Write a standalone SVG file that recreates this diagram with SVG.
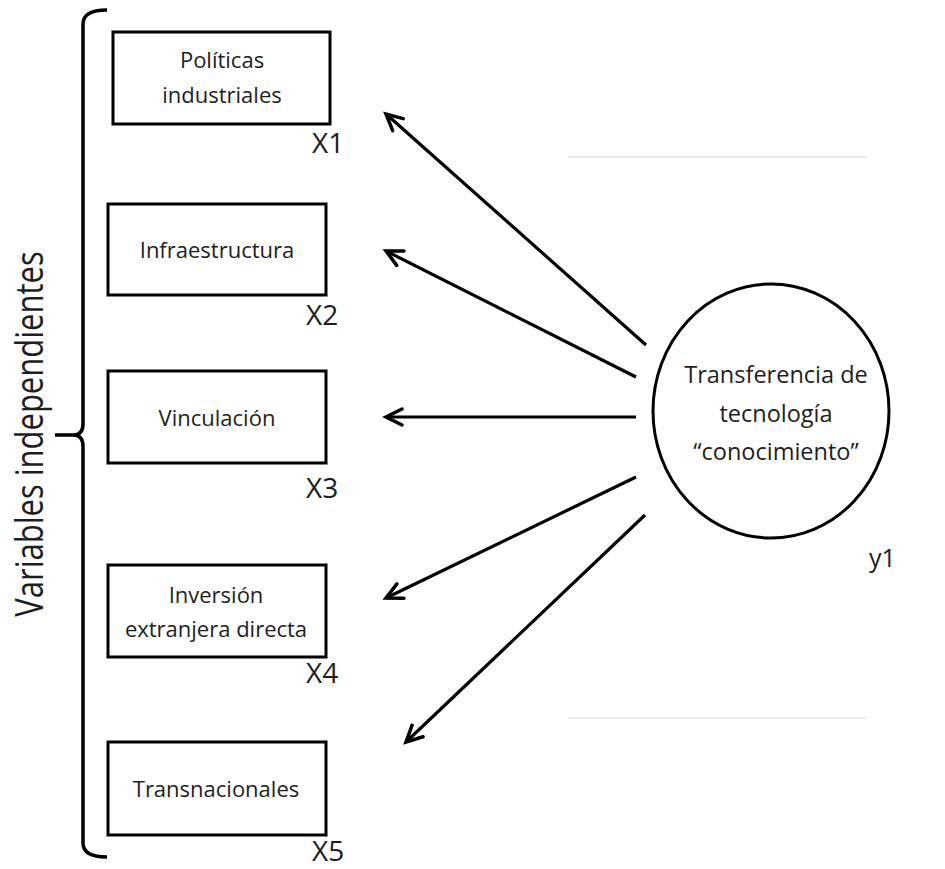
<svg xmlns="http://www.w3.org/2000/svg" width="945" height="869" viewBox="0 0 945 869">
  <style>
    .box { fill: #fff; stroke: #000; stroke-width: 3; }
    .lbl { font-family: "Open Sans", "Liberation Sans", sans-serif; font-size: 22px; fill: #1e1e1e; text-anchor: middle; }
    .var { font-family: "Open Sans", "Liberation Sans", sans-serif; font-size: 28px; fill: #1e1e1e; }
    .big { font-size: 23.5px; }
    .yl { font-size: 25px; }
    .side { font-size: 31px; text-anchor: middle; }
    .conn { stroke: #000; stroke-width: 3.2; fill: none; marker-end: url(#arrow); }
    .faint { stroke: #e6e6e6; stroke-width: 1.5; }
  </style>
  <defs>
    <marker id="arrow" viewBox="-20 -11 24 22" markerWidth="24" markerHeight="22" markerUnits="userSpaceOnUse" refX="0" refY="0" orient="auto">
      <path d="M-16,-8 L0,0 L-16,8" fill="none" stroke="#000" stroke-width="3.5" stroke-linecap="round" stroke-linejoin="miter"/>
    </marker>
  </defs>
  <rect width="945" height="869" fill="#fff"/>

  <!-- faint horizontal rules -->
  <line class="faint" x1="568" y1="157" x2="867" y2="157"/>
  <line class="faint" x1="568" y1="718" x2="867" y2="718"/>

  <!-- brace grouping the independent variables -->
  <g id="brace">
    <path d="M107,10 Q83,10 83,24 L83,424 Q83,435 73,435 L55,435 M73,435 Q83,435 83,446 L83,843 Q83,857 107,857" fill="none" stroke="#000" stroke-width="3.5"/>
    <text class="var side" transform="translate(43,434) scale(1.22,1) rotate(-90)">Variables independientes</text>
  </g>

  <!-- independent variables -->
  <g id="x1">
    <rect class="box" x="113" y="32" width="217" height="92"/>
    <text class="lbl" x="222" y="68">Políticas</text>
    <text class="lbl" x="222" y="103">industriales</text>
    <text class="var" x="312" y="153">X1</text>
  </g>
  <g id="x2">
    <rect class="box" x="108" y="204" width="218" height="91"/>
    <text class="lbl" x="217" y="258">Infraestructura</text>
    <text class="var" x="306" y="325">X2</text>
  </g>
  <g id="x3">
    <rect class="box" x="108" y="371" width="218" height="92"/>
    <text class="lbl" x="217" y="426">Vinculación</text>
    <text class="var" x="306" y="498">X3</text>
  </g>
  <g id="x4">
    <rect class="box" x="108" y="565" width="218" height="92"/>
    <text class="lbl" x="216" y="603">Inversión</text>
    <text class="lbl" x="216" y="637">extranjera directa</text>
    <text class="var" x="306" y="683">X4</text>
  </g>
  <g id="x5">
    <rect class="box" x="108" y="742" width="218" height="93"/>
    <text class="lbl" x="216" y="797">Transnacionales</text>
    <text class="var" x="312" y="861">X5</text>
  </g>

  <!-- dependent variable -->
  <g id="y1">
    <ellipse cx="771" cy="411" rx="118" ry="127" fill="#fff" stroke="#000" stroke-width="3"/>
    <text class="lbl big" x="776" y="383">Transferencia de</text>
    <text class="lbl big" x="776" y="422">tecnología</text>
    <text class="lbl big" x="776" y="460">“conocimiento”</text>
    <text class="var yl" x="869" y="567">y1</text>
  </g>

  <!-- connectors -->
  <g id="connectors">
    <line class="conn" x1="646" y1="345" x2="386" y2="114"/>
    <line class="conn" x1="636" y1="377" x2="386" y2="251"/>
    <line class="conn" x1="636" y1="417" x2="386" y2="417"/>
    <line class="conn" x1="636" y1="477" x2="386" y2="598"/>
    <line class="conn" x1="645" y1="515" x2="406" y2="742"/>
  </g>
</svg>
